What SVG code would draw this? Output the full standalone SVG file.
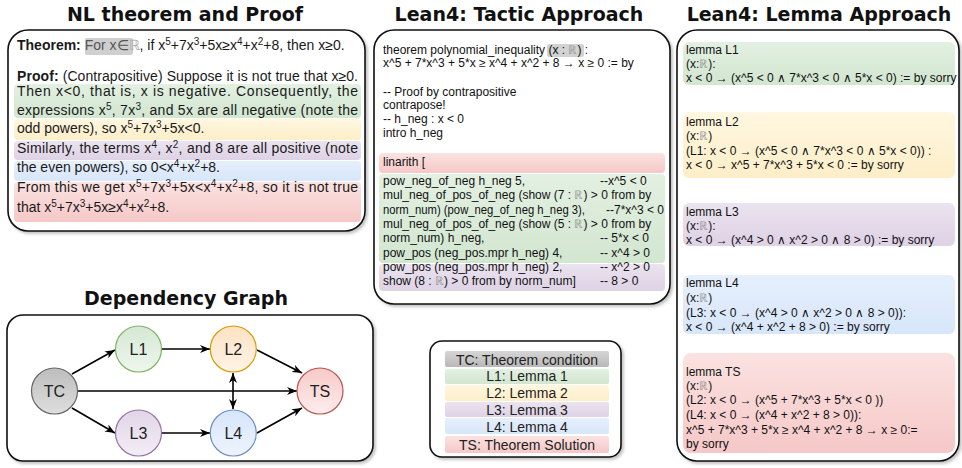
<svg xmlns="http://www.w3.org/2000/svg" width="962" height="468" viewBox="0 0 962 468">
  <style>
    .title { font-family: "DejaVu Sans", Verdana, sans-serif; font-weight: bold; font-size: 19px; fill: #111; text-anchor: middle; }
    .nl { font-family: "Liberation Sans", Arial, sans-serif; font-size: 14px; fill: #1a1a1a; }
    .code { font-family: "Liberation Sans", Arial, sans-serif; font-size: 12px; fill: #111; }
    .rr { fill: #999; }
    .panel { fill: #fff; stroke: #111; stroke-width: 1.6; }
    .node-label { font-family: "Liberation Sans", Arial, sans-serif; font-size: 16px; fill: #222; text-anchor: middle; }
    .legend { font-family: "Liberation Sans", Arial, sans-serif; font-size: 14px; fill: #222; text-anchor: middle; }
    .edge { fill: none; stroke: #000; stroke-width: 1.6; }
  </style>
  <defs>
    <filter id="shadow" x="-5%" y="-5%" width="110%" height="110%">
      <feDropShadow dx="2" dy="2" stdDeviation="1.5" flood-color="#000" flood-opacity="0.25"/>
    </filter>
    <marker id="arrow" viewBox="0 0 10 8" markerWidth="10" markerHeight="8" refX="10" refY="4" orient="auto-start-reverse" markerUnits="userSpaceOnUse">
      <path d="M0,0 L10,4 L0,8 L3,4 z" fill="#000"/>
    </marker>
    <!-- band fills: lighter at the top, full tint at the bottom -->
    <linearGradient id="bGray" x1="0" y1="0" x2="0" y2="1"><stop offset="0" stop-color="#d6d6d6"/><stop offset="1" stop-color="#b8b8b8"/></linearGradient>
    <linearGradient id="bGreen" x1="0" y1="0" x2="0" y2="1"><stop offset="0" stop-color="#e3f0e2"/><stop offset="1" stop-color="#d2e6d0"/></linearGradient>
    <linearGradient id="bYellow" x1="0" y1="0" x2="0" y2="1"><stop offset="0" stop-color="#fff7e0"/><stop offset="1" stop-color="#fdeec8"/></linearGradient>
    <linearGradient id="bPurple" x1="0" y1="0" x2="0" y2="1"><stop offset="0" stop-color="#ebe3ef"/><stop offset="1" stop-color="#ded2e5"/></linearGradient>
    <linearGradient id="bBlue" x1="0" y1="0" x2="0" y2="1"><stop offset="0" stop-color="#e6effc"/><stop offset="1" stop-color="#d7e6fa"/></linearGradient>
    <linearGradient id="bRed" x1="0" y1="0" x2="0" y2="1"><stop offset="0" stop-color="#fbe2e1"/><stop offset="1" stop-color="#f5c8c7"/></linearGradient>
    <!-- node fills -->
    <linearGradient id="nGray" x1="0" y1="0" x2="0" y2="1"><stop offset="0" stop-color="#bdbdbd"/><stop offset="1" stop-color="#dedede"/></linearGradient>
    <linearGradient id="nGreen" x1="0" y1="0" x2="0" y2="1"><stop offset="0" stop-color="#d5e8d4"/><stop offset="1" stop-color="#eef6ed"/></linearGradient>
    <linearGradient id="nYellow" x1="0" y1="0" x2="0" y2="1"><stop offset="0" stop-color="#ffe2c4"/><stop offset="1" stop-color="#fff3e6"/></linearGradient>
    <linearGradient id="nPurple" x1="0" y1="0" x2="0" y2="1"><stop offset="0" stop-color="#e1d5e7"/><stop offset="1" stop-color="#f3eef6"/></linearGradient>
    <linearGradient id="nBlue" x1="0" y1="0" x2="0" y2="1"><stop offset="0" stop-color="#d6e5fb"/><stop offset="1" stop-color="#eef4fe"/></linearGradient>
    <linearGradient id="nRed" x1="0" y1="0" x2="0" y2="1"><stop offset="0" stop-color="#f6c9c7"/><stop offset="1" stop-color="#fdeeee"/></linearGradient>
  </defs>

  <rect width="962" height="468" fill="#fff"/>

  <!-- Titles -->
  <text class="title" x="185" y="21">NL theorem and Proof</text>
  <text class="title" x="519" y="21">Lean4: Tactic Approach</text>
  <text class="title" x="819" y="21">Lean4: Lemma Approach</text>
  <text class="title" x="186" y="305">Dependency Graph</text>

  <!-- Natural-language theorem and proof -->
  <g id="nl-proof">
    <rect class="panel" x="8" y="30" width="357" height="201" rx="20" filter="url(#shadow)"/>
    <rect x="85" y="38" width="48" height="17" rx="2" fill="#cfcfcf"/>
    <rect x="14" y="84" width="347" height="34" rx="4" fill="url(#bGreen)"/>
    <rect x="14" y="119" width="347" height="21" rx="4" fill="url(#bYellow)"/>
    <rect x="14" y="141" width="347" height="19" rx="4" fill="url(#bPurple)"/>
    <rect x="14" y="161" width="347" height="20" rx="4" fill="url(#bBlue)"/>
    <rect x="14" y="182" width="347" height="40" rx="4" fill="url(#bRed)"/>
    <text class="nl" x="17" y="50"><tspan font-weight="bold">Theorem:</tspan> <tspan fill="#555">For x∈</tspan><tspan fill="#aaa">ℝ</tspan>, if x<tspan dy="-5" font-size="10">5</tspan><tspan dy="5">+7x</tspan><tspan dy="-5" font-size="10">3</tspan><tspan dy="5">+5x≥x</tspan><tspan dy="-5" font-size="10">4</tspan><tspan dy="5">+x</tspan><tspan dy="-5" font-size="10">2</tspan><tspan dy="5">+8, then x≥0.</tspan></text>
    <text class="nl" x="17" y="81" textLength="341" lengthAdjust="spacing"><tspan font-weight="bold">Proof:</tspan> (Contrapositive) Suppose it is not true that x≥0.</text>
    <text class="nl" x="17" y="96" textLength="341" lengthAdjust="spacing">Then x&lt;0, that is, x is negative. Consequently, the</text>
    <text class="nl" x="17" y="115" textLength="341" lengthAdjust="spacing">expressions x<tspan dy="-5" font-size="10">5</tspan><tspan dy="5">, 7x</tspan><tspan dy="-5" font-size="10">3</tspan><tspan dy="5">, and 5x are all negative (note the</tspan></text>
    <text class="nl" x="17" y="133">odd powers), so x<tspan dy="-5" font-size="10">5</tspan><tspan dy="5">+7x</tspan><tspan dy="-5" font-size="10">3</tspan><tspan dy="5">+5x&lt;0.</tspan></text>
    <text class="nl" x="17" y="153" textLength="341" lengthAdjust="spacing">Similarly, the terms x<tspan dy="-5" font-size="10">4</tspan><tspan dy="5">, x</tspan><tspan dy="-5" font-size="10">2</tspan><tspan dy="5">, and 8 are all positive (note</tspan></text>
    <text class="nl" x="17" y="172">the even powers), so 0&lt;x<tspan dy="-5" font-size="10">4</tspan><tspan dy="5">+x</tspan><tspan dy="-5" font-size="10">2</tspan><tspan dy="5">+8.</tspan></text>
    <text class="nl" x="17" y="192" textLength="341" lengthAdjust="spacing">From this we get x<tspan dy="-5" font-size="10">5</tspan><tspan dy="5">+7x</tspan><tspan dy="-5" font-size="10">3</tspan><tspan dy="5">+5x&lt;x</tspan><tspan dy="-5" font-size="10">4</tspan><tspan dy="5">+x</tspan><tspan dy="-5" font-size="10">2</tspan><tspan dy="5">+8, so it is not true</tspan></text>
    <text class="nl" x="17" y="212">that x<tspan dy="-5" font-size="10">5</tspan><tspan dy="5">+7x</tspan><tspan dy="-5" font-size="10">3</tspan><tspan dy="5">+5x≥x</tspan><tspan dy="-5" font-size="10">4</tspan><tspan dy="5">+x</tspan><tspan dy="-5" font-size="10">2</tspan><tspan dy="5">+8.</tspan></text>
  </g>

  <!-- Lean4 tactic proof -->
  <g id="lean-tactic">
    <rect class="panel" x="374" y="30" width="296" height="274" rx="20" filter="url(#shadow)"/>
    <rect x="547" y="44" width="37" height="13" rx="2" fill="#d2d2d2"/>
    <rect x="379" y="153" width="286" height="20" rx="4" fill="url(#bRed)"/>
    <rect x="379" y="174" width="286" height="89" rx="4" fill="url(#bGreen)"/>
    <rect x="379" y="264" width="286" height="27" rx="4" fill="url(#bPurple)"/>
    <text class="code" x="383" y="54">theorem polynomial_inequality (x : <tspan class="rr">ℝ</tspan>) :</text>
    <text class="code" x="383" y="67">x^5 + 7*x^3 + 5*x ≥ x^4 + x^2 + 8 → x ≥ 0 := by</text>
    <text class="code" x="383" y="96">-- Proof by contrapositive</text>
    <text class="code" x="383" y="109">contrapose!</text>
    <text class="code" x="383" y="123">-- h_neg : x &lt; 0</text>
    <text class="code" x="383" y="137">intro h_neg</text>
    <text class="code" x="383" y="166">linarith [</text>
    <text class="code" x="383" y="185">pow_neg_of_neg h_neg 5,</text>
    <text class="code" x="600" y="185">--x^5 &lt; 0</text>
    <text class="code" x="383" y="199">mul_neg_of_pos_of_neg (show (7 : <tspan class="rr">ℝ</tspan>) &gt; 0 from by</text>
    <text class="code" x="383" y="214" textLength="202" lengthAdjust="spacingAndGlyphs">norm_num) (pow_neg_of_neg h_neg 3),</text>
    <text class="code" x="664" y="214" text-anchor="end">--7*x^3 &lt; 0</text>
    <text class="code" x="383" y="228">mul_neg_of_pos_of_neg (show (5 : <tspan class="rr">ℝ</tspan>) &gt; 0 from by</text>
    <text class="code" x="383" y="242">norm_num) h_neg,</text>
    <text class="code" x="600" y="242">-- 5*x &lt; 0</text>
    <text class="code" x="383" y="257">pow_pos (neg_pos.mpr h_neg) 4,</text>
    <text class="code" x="600" y="257">-- x^4 &gt; 0</text>
    <text class="code" x="383" y="271">pow_pos (neg_pos.mpr h_neg) 2,</text>
    <text class="code" x="600" y="271">-- x^2 &gt; 0</text>
    <text class="code" x="383" y="285">show (8 : <tspan class="rr">ℝ</tspan>) &gt; 0 from by norm_num]</text>
    <text class="code" x="600" y="285">-- 8 &gt; 0</text>
  </g>

  <!-- Lean4 lemma decomposition -->
  <g id="lean-lemmas">
    <rect class="panel" x="677" y="30" width="282" height="431" rx="20" filter="url(#shadow)"/>
    <g id="lemma-L1">
      <rect x="683" y="42" width="272" height="43" rx="6" fill="url(#bGreen)"/>
      <text class="code" x="686" y="54">lemma L1</text>
      <text class="code" x="686" y="68">(x:<tspan class="rr">ℝ</tspan>):</text>
      <text class="code" x="686" y="82">x &lt; 0 → (x^5 &lt; 0 ∧ 7*x^3 &lt; 0 ∧ 5*x &lt; 0) := by  sorry</text>
    </g>
    <g id="lemma-L2">
      <rect x="683" y="112" width="272" height="66" rx="6" fill="url(#bYellow)"/>
      <text class="code" x="686" y="126">lemma L2</text>
      <text class="code" x="686" y="140">(x:<tspan class="rr">ℝ</tspan>)</text>
      <text class="code" x="686" y="155">(L1: x &lt; 0 → (x^5 &lt; 0 ∧ 7*x^3 &lt; 0 ∧ 5*x &lt; 0)) :</text>
      <text class="code" x="686" y="169">x &lt; 0 → x^5 + 7*x^3 + 5*x &lt; 0 := by sorry</text>
    </g>
    <g id="lemma-L3">
      <rect x="683" y="203" width="272" height="43" rx="6" fill="url(#bPurple)"/>
      <text class="code" x="686" y="216">lemma L3</text>
      <text class="code" x="686" y="230">(x:<tspan class="rr">ℝ</tspan>):</text>
      <text class="code" x="686" y="244">x &lt; 0 → (x^4 &gt; 0 ∧ x^2 &gt; 0 ∧ 8 &gt; 0) := by sorry</text>
    </g>
    <g id="lemma-L4">
      <rect x="683" y="275" width="272" height="59" rx="6" fill="url(#bBlue)"/>
      <text class="code" x="686" y="287">lemma L4</text>
      <text class="code" x="686" y="302">(x:<tspan class="rr">ℝ</tspan>)</text>
      <text class="code" x="686" y="317">(L3: x &lt; 0 → (x^4 &gt; 0 ∧ x^2 &gt; 0 ∧ 8 &gt; 0)):</text>
      <text class="code" x="686" y="331">x &lt; 0 → (x^4 + x^2 + 8 &gt; 0) := by sorry</text>
    </g>
    <g id="lemma-TS">
      <rect x="683" y="353" width="272" height="100" rx="8" fill="url(#bRed)"/>
      <text class="code" x="686" y="376">lemma TS</text>
      <text class="code" x="686" y="390">(x:<tspan class="rr">ℝ</tspan>)</text>
      <text class="code" x="686" y="404">(L2: x &lt; 0 → (x^5 + 7*x^3 + 5*x &lt; 0 ))</text>
      <text class="code" x="686" y="419">(L4: x &lt; 0 → (x^4 + x^2 + 8 &gt; 0)):</text>
      <text class="code" x="686" y="434">x^5 + 7*x^3 + 5*x ≥ x^4 + x^2 + 8 → x ≥ 0:=</text>
      <text class="code" x="686" y="448">by sorry</text>
    </g>
  </g>

  <!-- Dependency graph -->
  <g id="dependency-graph">
    <rect class="panel" x="7" y="315" width="366" height="146" rx="16" filter="url(#shadow)"/>
  </g>

  <g id="connectors">
    <path class="edge" d="M72,374 L115,350" marker-end="url(#arrow)"/>
    <path class="edge" d="M72,408 L115,433" marker-end="url(#arrow)"/>
    <path class="edge" d="M161.5,349 L210,349" marker-end="url(#arrow)"/>
    <path class="edge" d="M161.5,433 L210,433" marker-end="url(#arrow)"/>
    <path class="edge" d="M257,350 L302,373" marker-end="url(#arrow)"/>
    <path class="edge" d="M257,433 L302,408" marker-end="url(#arrow)"/>
    <path class="edge" d="M77.5,391 L297,391" marker-end="url(#arrow)"/>
    <path class="edge" d="M233,373 L233,409" marker-start="url(#arrow)" marker-end="url(#arrow)"/>
  </g>

  <g id="node-TC">
    <circle cx="54.5" cy="391" r="23" fill="url(#nGray)" stroke="#666" stroke-width="1.2"/>
    <text class="node-label" x="54.5" y="397">TC</text>
  </g>
  <g id="node-L1">
    <circle cx="138.5" cy="349" r="23" fill="url(#nGreen)" stroke="#82b366" stroke-width="1.2"/>
    <text class="node-label" x="138.5" y="355">L1</text>
  </g>
  <g id="node-L2">
    <circle cx="233.3" cy="349" r="23" fill="url(#nYellow)" stroke="#d79b00" stroke-width="1.2"/>
    <text class="node-label" x="233.3" y="355">L2</text>
  </g>
  <g id="node-L3">
    <circle cx="138.5" cy="433" r="23" fill="url(#nPurple)" stroke="#9673a6" stroke-width="1.2"/>
    <text class="node-label" x="138.5" y="439">L3</text>
  </g>
  <g id="node-L4">
    <circle cx="233.3" cy="433" r="23" fill="url(#nBlue)" stroke="#6c8ebf" stroke-width="1.2"/>
    <text class="node-label" x="233.3" y="439">L4</text>
  </g>
  <g id="node-TS">
    <circle cx="320" cy="391" r="23" fill="url(#nRed)" stroke="#b85450" stroke-width="1.2"/>
    <text class="node-label" x="320" y="397">TS</text>
  </g>

  <!-- Legend -->
  <g id="legend">
    <rect class="panel" x="430" y="341" width="191" height="116" rx="12" filter="url(#shadow)"/>
    <rect x="445" y="351" width="164" height="16" rx="2" fill="url(#bGray)"/>
    <rect x="445" y="369" width="164" height="15" rx="2" fill="url(#bGreen)"/>
    <rect x="445" y="385" width="164" height="16" rx="2" fill="url(#bYellow)"/>
    <rect x="445" y="402" width="164" height="15" rx="2" fill="url(#bPurple)"/>
    <rect x="445" y="418" width="164" height="16" rx="2" fill="url(#bBlue)"/>
    <rect x="445" y="436" width="164" height="17" rx="2" fill="url(#bRed)"/>
    <text class="legend" x="527" y="365">TC: Theorem condition</text>
    <text class="legend" x="527" y="381">L1: Lemma 1</text>
    <text class="legend" x="527" y="398">L2: Lemma 2</text>
    <text class="legend" x="527" y="415">L3: Lemma 3</text>
    <text class="legend" x="527" y="432">L4: Lemma 4</text>
    <text class="legend" x="527" y="450">TS: Theorem Solution</text>
  </g>
</svg>
